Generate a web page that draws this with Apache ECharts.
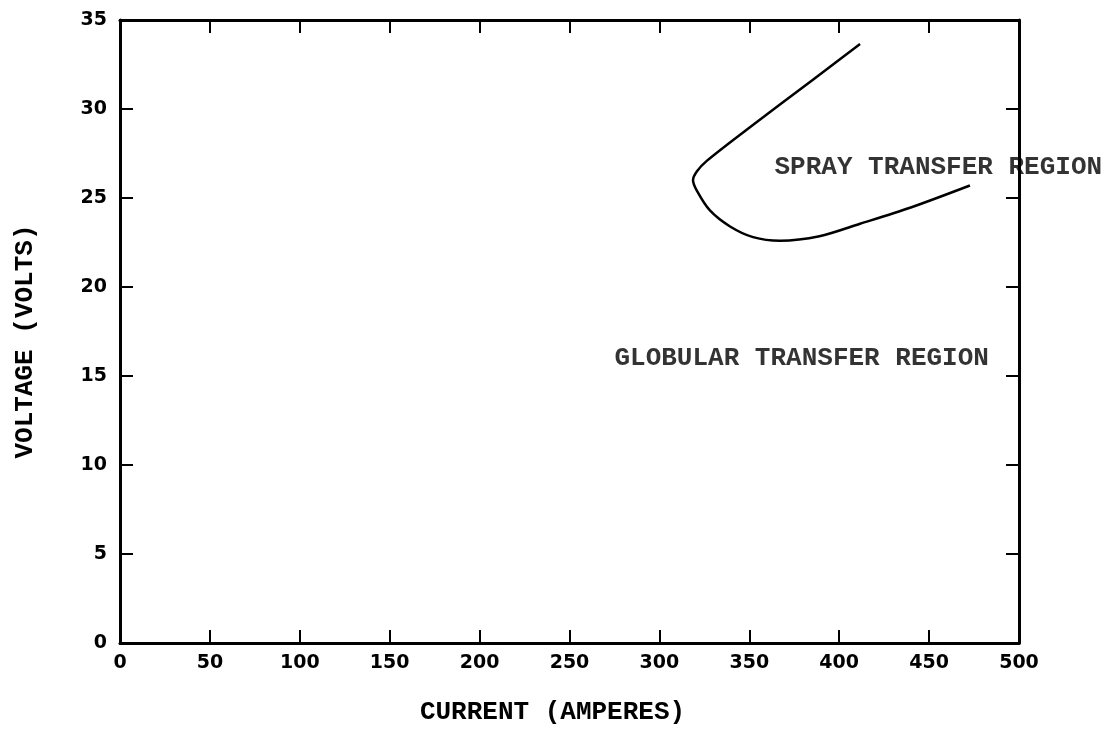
<!DOCTYPE html>
<html>
<head>
<meta charset="utf-8">
<style>
  html, body { margin: 0; padding: 0; background: #fff; }
  #chart { width: 1113px; height: 730px; }
</style>
<script src="https://cdn.jsdelivr.net/npm/echarts@6/dist/echarts.min.js"></script>
</head>
<body>
<div id="chart"></div>
<script>
// boundary between globular and spray transfer
const currentA = [411.6, 385.4, 348.7, 326.5, 320.9, 318.7, 320.9, 328.1, 339.3, 352.1, 367.1, 389.0, 411.6, 439.4, 472.7];
const voltageV = [33.65, 31.65, 28.85, 27.1, 26.5, 26.0, 25.4, 24.3, 23.4, 22.8, 22.6, 22.85, 23.55, 24.45, 25.7];

const regionNames = ['SPRAY TRANSFER REGION', 'GLOBULAR TRANSFER REGION'];
const regionX = [364, 275];
const regionY = [26.7, 16.0];

const INK = '#000';
const LABEL_FONT = 'DejaVu Sans';
const TYPE_FONT = 'Liberation Mono';

const chart = echarts.init(document.getElementById('chart'), null, { renderer: 'canvas' });

// frame lines stay on their own edge (no onZero)
const frameLine = { show: true, onZero: false, lineStyle: { color: INK, width: 3 } };
const tick = { show: true, inside: true, length: 13, lineStyle: { color: INK, width: 2 } };
const tickLabel = { color: INK, fontFamily: LABEL_FONT, fontWeight: 'bold', fontSize: 19 };
const typeText = { color: INK, fontFamily: TYPE_FONT, fontSize: 26, fontWeight: 'bold' };

chart.setOption({
  animation: false,
  backgroundColor: '#fff',
  grid: { left: 120, right: 94, top: 20, bottom: 87 },
  xAxis: [
    {
      type: 'value', position: 'bottom', min: 0, max: 500, interval: 50,
      axisLine: frameLine, axisTick: tick, splitLine: { show: false },
      axisLabel: { ...tickLabel, margin: 11 },
      name: 'CURRENT (AMPERES)', nameLocation: 'middle', nameGap: 56,
      nameTextStyle: { ...typeText, padding: [0, 34, 0, 0] },
    },
    {
      type: 'value', position: 'top', min: 0, max: 500, interval: 50,
      axisLine: frameLine, axisTick: tick, splitLine: { show: false },
      axisLabel: { show: false },
    },
  ],
  yAxis: [
    {
      type: 'value', position: 'left', min: 0, max: 35, interval: 5,
      axisLine: frameLine, axisTick: tick, splitLine: { show: false },
      axisLabel: { ...tickLabel, margin: 13 },
      name: 'VOLTAGE (VOLTS)', nameLocation: 'middle', nameGap: 82,
      nameTextStyle: { ...typeText, padding: [0, 20, 0, 0] },
    },
    {
      type: 'value', position: 'right', min: 0, max: 35, interval: 5,
      axisLine: frameLine, axisTick: tick, splitLine: { show: false },
      axisLabel: { show: false },
    },
  ],
  series: [
    {
      type: 'line',
      data: currentA.map((x, i) => [x, voltageV[i]]),
      smooth: 0.3,
      showSymbol: false,
      silent: true,
      lineStyle: { color: INK, width: 2.5 },
    },
    {
      type: 'scatter',
      symbolSize: 0,
      silent: true,
      data: regionNames.map((n, i) => ({ name: n, value: [regionX[i], regionY[i]] })),
      label: {
        show: true, position: 'right', distance: 0,
        formatter: p => p.name,
        ...typeText,
      },
    },
  ],
});
</script>
</body>
</html>
